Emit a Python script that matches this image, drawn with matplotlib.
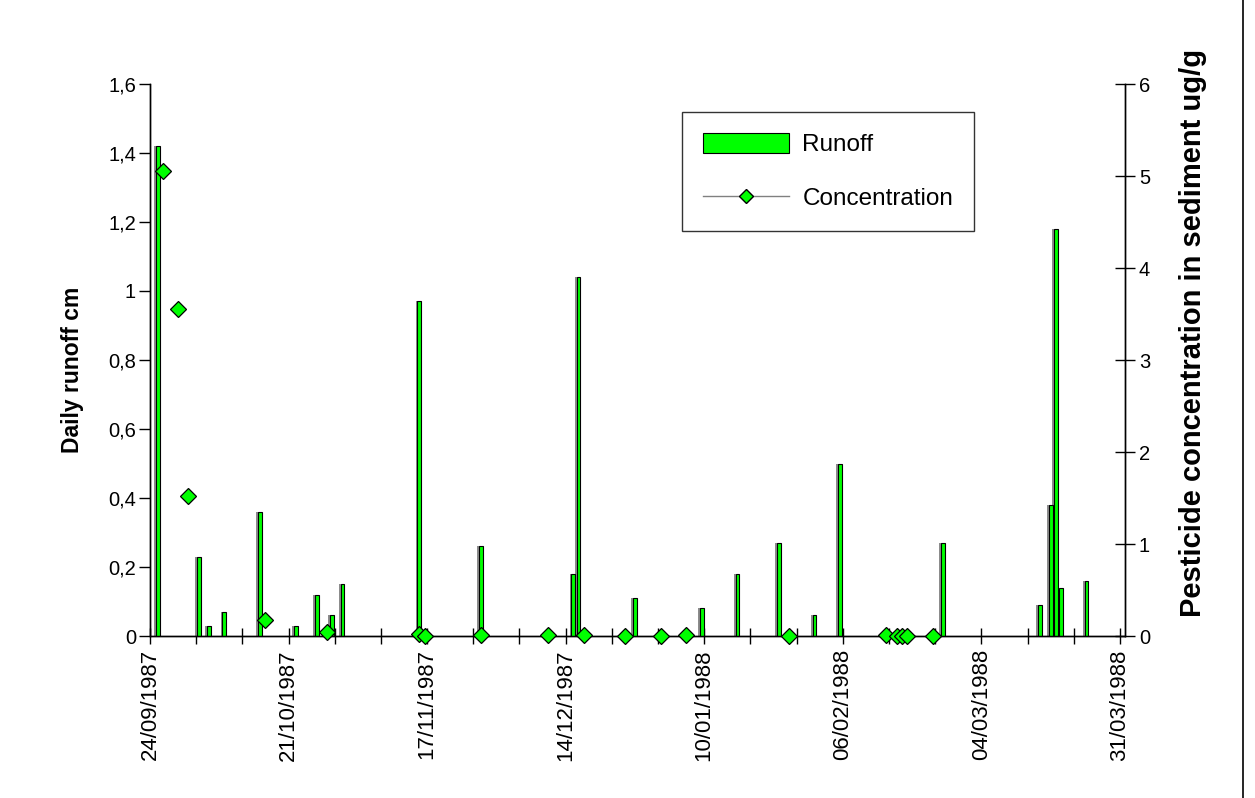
import matplotlib
matplotlib.use("Agg")
import matplotlib.pyplot as plt
from matplotlib.lines import Line2D
from matplotlib.patches import Patch
import pandas as pd

plt.rcParams['font.family'] = ['Liberation Sans', 'DejaVu Sans']

# Daily runoff (cm)
runoff_dates = ['25/09/1987', '03/10/1987', '05/10/1987', '08/10/1987', '15/10/1987',
                '22/10/1987', '26/10/1987', '29/10/1987', '31/10/1987', '15/11/1987',
                '27/11/1987', '15/12/1987', '16/12/1987', '27/12/1987', '09/01/1988',
                '16/01/1988', '24/01/1988', '31/01/1988', '05/02/1988', '25/02/1988',
                '15/03/1988', '17/03/1988', '18/03/1988', '19/03/1988', '24/03/1988']
runoff_cm = [1.42, 0.23, 0.03, 0.07, 0.36,
             0.03, 0.12, 0.06, 0.15, 0.97,
             0.26, 0.18, 1.04, 0.11, 0.08,
             0.18, 0.27, 0.06, 0.50, 0.27,
             0.09, 0.38, 1.18, 0.14, 0.16]

# Pesticide concentration in sediment (ug/g)
conc_dates = ['26/09/1987', '29/09/1987', '01/10/1987', '16/10/1987', '28/10/1987',
              '15/11/1987', '16/11/1987', '27/11/1987', '10/12/1987', '17/12/1987',
              '25/12/1987', '01/01/1988', '06/01/1988', '26/01/1988', '14/02/1988',
              '16/02/1988', '17/02/1988', '18/02/1988', '23/02/1988']
conc_ugg = [5.05, 3.55, 1.52, 0.17, 0.04,
            0.02, 0.0, 0.01, 0.01, 0.01,
            0.0, 0.0, 0.01, 0.0, 0.01,
            0.0, 0.0, 0.0, 0.0]

date_labels = ['24/09/1987', '21/10/1987', '17/11/1987', '14/12/1987',
               '10/01/1988', '06/02/1988', '04/03/1988', '31/03/1988']
left_ticks = [0, 0.2, 0.4, 0.6, 0.8, 1.0, 1.2, 1.4, 1.6]
right_ticks = [0, 1, 2, 3, 4, 5, 6]

start = pd.to_datetime(date_labels[0], dayfirst=True)


def day_index(strings):
    return [(pd.to_datetime(s, dayfirst=True) - start).days for s in strings]


runoff_x = [d + 0.5 for d in day_index(runoff_dates)]
conc_x = [d + 0.5 for d in day_index(conc_dates)]
label_x = day_index(date_labels)
n_days = label_x[-1] + 1

GREEN = '#00ff00'

fig = plt.figure(figsize=(12.55, 7.98), dpi=100)
ax = fig.add_axes([150 / 1255, 1 - 636 / 798, (1125 - 150) / 1255, (636 - 84) / 798])
ax2 = ax.twinx()

# bars with a grey drop shadow on the left
ax.bar([x - 0.35 for x in runoff_x], runoff_cm, width=0.8, color='#8c8c8c',
       linewidth=0, zorder=2)
ax.bar(runoff_x, runoff_cm, width=0.75, color=GREEN, edgecolor='black',
       linewidth=0.8, zorder=3)

ax2.plot(conc_x, conc_ugg, linestyle='none', marker='D', markersize=8.5,
         markerfacecolor=GREEN, markeredgecolor='black', markeredgewidth=0.9,
         clip_on=False, zorder=4)

ax.set_xlim(0, n_days)
ax.set_ylim(0, 1.6)
ax2.set_ylim(0, 6)

ax.set_xticks(label_x)
ax.set_xticklabels(date_labels, rotation=90, fontsize=16)
ax.set_xticks(list(range(0, n_days, 9)), minor=True)
ax.tick_params(axis='x', which='both', direction='inout', length=11, width=1.0,
               pad=4)

ax.set_yticks(left_ticks)
ax.set_yticklabels([('%g' % v).replace('.', ',') for v in left_ticks], fontsize=14.5)
ax.tick_params(axis='y', direction='out', length=8, width=1.0, pad=2)

ax2.set_yticks(right_ticks)
ax2.set_yticklabels([str(v) for v in right_ticks], fontsize=14.5)
ax2.tick_params(axis='y', direction='inout', length=14, width=1.0, pad=3)

for a in (ax, ax2):
    a.spines['top'].set_visible(False)
    for s in ('left', 'right', 'bottom'):
        a.spines[s].set_linewidth(1.0)

ax.set_ylabel('Daily runoff cm', fontsize=16.5, fontweight='bold')
ax.yaxis.set_label_coords((84 - 150) / 975, (636 - 370) / 552)
ax2.set_ylabel('Pesticide concentration in sediment ug/g', fontsize=21,
               fontweight='bold')
ax2.yaxis.set_label_coords((1179 - 150) / 975, (636 - 333) / 552)

handles = [Patch(facecolor=GREEN, edgecolor='black', linewidth=0.8, label='Runoff'),
           Line2D([0], [0], color='#808080', linewidth=1.0, marker='D', markersize=7,
                  markerfacecolor=GREEN, markeredgecolor='black', label='Concentration')]
leg = ax.legend(handles=handles, loc='upper left',
                bbox_to_anchor=((682 - 150) / 975, (636 - 112) / 552),
                fontsize=17.5, frameon=True, fancybox=False, edgecolor='black',
                handlelength=3.55, handleheight=0.9, handletextpad=0.55,
                borderpad=0.85, labelspacing=1.25, borderaxespad=0)
leg.get_frame().set_linewidth(1.0)

# outer frame line on the right of the chart area
fig.add_artist(Line2D([1243 / 1255, 1243 / 1255], [0.0, 1.0], color='black',
                      linewidth=1.2, transform=fig.transFigure))

fig.savefig('out.png', dpi=100, facecolor='white')
